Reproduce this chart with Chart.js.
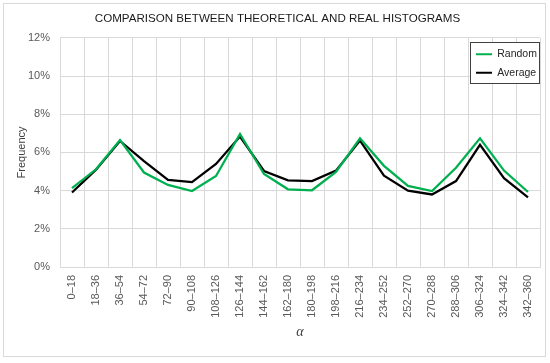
<!DOCTYPE html>
<html>
<head>
<meta charset="utf-8">
<script src="https://cdn.jsdelivr.net/npm/chart.js@4/dist/chart.umd.min.js"></script>
<style>
  html, body { margin: 0; padding: 0; background: #fff; }
  #wrap { width: 550px; height: 363px; position: relative; }
</style>
</head>
<body>
<div id="wrap"><canvas id="my-chart" width="550" height="363"></canvas></div>
<script>
'use strict';

// bins of alpha (degrees)
let binLabels = ['0–18', '18–36', '36–54', '54–72', '72–90', '90–108', '108–126', '126–144',
  '144–162', '162–180', '180–198', '198–216', '216–234', '234–252', '252–270', '270–288',
  '288–306', '306–324', '324–342', '342–360'];

// frequency in %
let randomVals = [4.13, 5.12, 6.65, 4.95, 4.3, 3.98, 4.77, 6.97, 4.87, 4.07,
  4.02, 4.98, 6.74, 5.3, 4.25, 3.98, 5.2, 6.74, 5.05, 3.93];
let averageVals = [3.9, 5.1, 6.6, 5.55, 4.56, 4.45, 5.4, 6.83, 5.03, 4.54,
  4.5, 5.05, 6.62, 4.78, 4.0, 3.8, 4.5, 6.4, 4.65, 3.65];

let yTicks = [0, 2, 4, 6, 8, 10, 12];

let canvasElem = document.getElementById('my-chart');

Chart.defaults.font.family = '"Liberation Sans", Arial, sans-serif';
Chart.defaults.color = '#595959';

// outer frame + boxed legend inside the plot
let framePlugin = {
  id: 'frame',
  afterLayout(chart) {
    let lg = chart.legend;
    let h = lg.height;
    lg.left = chart.chartArea.right - 72;
    lg.right = chart.chartArea.right;
    lg.top = 41;
    lg.bottom = lg.top + h;
  },
  beforeDraw(chart) {
    let ctx = chart.ctx;
    ctx.save();
    ctx.fillStyle = '#fff';
    ctx.fillRect(0, 0, chart.width, chart.height);
    ctx.strokeStyle = '#d9d9d9';
    ctx.lineWidth = 1;
    ctx.strokeRect(3.5, 3.5, 542, 353);
    ctx.restore();
  },
  afterDatasetsDraw(chart) {
    let ctx = chart.ctx;
    let right = chart.chartArea.right;
    ctx.save();
    ctx.fillStyle = '#fff';
    ctx.fillRect(right - 70, 42, 70, 42);
    ctx.strokeStyle = '#404040';
    ctx.lineWidth = 1;
    ctx.strokeRect(right - 70 + 0.5, 42.5, 69, 41);
    ctx.restore();
    chart.legend.draw();
  }
};

let chartObj = {
  type: 'line',
  data: {
    labels: binLabels,
    datasets: [{
      label: 'Random',
      data: randomVals,
      borderColor: '#00b050',
      backgroundColor: '#00b050',
      borderWidth: 2.25,
      pointRadius: 0,
      tension: 0
    },
    {
      label: 'Average',
      data: averageVals,
      borderColor: '#000000',
      backgroundColor: '#000000',
      borderWidth: 2.25,
      pointRadius: 0,
      tension: 0
    }]
  },
  options: {
    responsive: false,
    animation: false,
    layout: { padding: { left: 15, right: 10, top: 0, bottom: 0 } },
    scales: {
      x: {
        offset: true,
        grid: { offset: true, color: '#d9d9d9', drawTicks: false },
        border: { color: '#d9d9d9' },
        ticks: {
          autoSkip: false,
          minRotation: 90,
          maxRotation: 90,
          padding: 8,
          font: { size: 11 },
          color: '#595959'
        },
        title: {
          display: true,
          text: 'α',
          color: '#404040',
          font: { family: '"Liberation Serif", serif', size: 14, style: 'italic' },
          padding: { top: 0, bottom: 22 }
        },
        afterFit(s) { s.height = 96; }
      },
      y: {
        min: 0,
        max: 12,
        afterBuildTicks(s) { s.ticks = yTicks.map(v => ({ value: v })); },
        grid: { color: '#d9d9d9', drawTicks: false },
        border: { display: false },
        ticks: {
          padding: 10,
          font: { size: 11 },
          color: '#595959',
          callback: v => v + '%'
        },
        title: {
          display: true,
          text: 'Frequency',
          color: '#404040',
          font: { size: 11 },
          padding: { top: 0, bottom: 4 }
        },
        afterFit(s) { s.width = 45; }
      }
    },
    plugins: {
      title: {
        display: true,
        text: 'COMPARISON BETWEEN THEORETICAL AND REAL HISTOGRAMS',
        color: '#1a1a1a',
        font: { size: 11.6, weight: 'normal' },
        padding: { top: 12, bottom: 12 }
      },
      legend: {
        position: 'chartArea',
        align: 'start',
        labels: {
          boxWidth: 16,
          boxHeight: 2,
          padding: 8,
          color: '#262626',
          font: { size: 10.5 },
          generateLabels(chart) {
            return Chart.defaults.plugins.legend.labels.generateLabels(chart).map(l => {
              l.lineWidth = 0;
              return l;
            });
          }
        }
      },
      tooltip: { enabled: false }
    }
  },
  plugins: [framePlugin]
};

new Chart(canvasElem, chartObj); //eslint-disable-line
</script>
</body>
</html>
